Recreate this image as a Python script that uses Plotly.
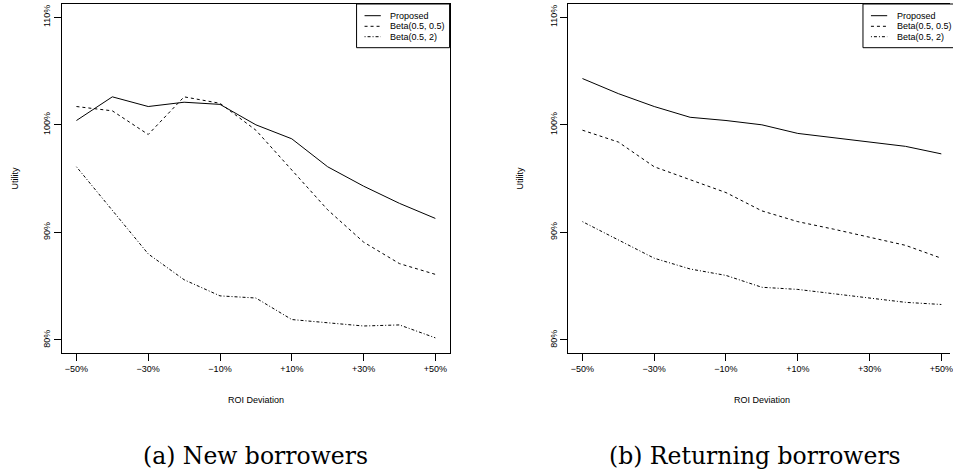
import plotly.graph_objects as go

# ---------------- data ----------------
roi_dev = [-50, -40, -30, -20, -10, 0, 10, 20, 30, 40, 50]
x_tick_vals = [-50, -30, -10, 10, 30, 50]
x_tick_text = ["\u221250%", "\u221230%", "\u221210%", "+10%", "+30%", "+50%"]
y_tick_vals = [80, 90, 100, 110]
y_tick_text = ["80%", "90%", "100%", "110%"]

series_names = ["Proposed", "Beta(0.5, 0.5)", "Beta(0.5, 2)"]

new_proposed = [100.4, 102.6, 101.7, 102.1, 101.9, 100.0, 98.7, 96.1, 94.3, 92.7, 91.3]
new_beta_05_05 = [101.7, 101.3, 99.1, 102.6, 102.0, 99.5, 95.8, 92.1, 89.1, 87.1, 86.1]
new_beta_05_2 = [96.1, 92.1, 88.0, 85.6, 84.1, 83.9, 81.9, 81.6, 81.3, 81.4, 80.2]

ret_proposed = [104.3, 102.9, 101.7, 100.7, 100.4, 100.0, 99.2, 98.8, 98.4, 98.0, 97.3]
ret_beta_05_05 = [99.5, 98.4, 96.1, 94.9, 93.7, 92.0, 91.0, 90.3, 89.55, 88.8, 87.6]
ret_beta_05_2 = [91.0, 89.3, 87.6, 86.6, 86.0, 84.9, 84.7, 84.3, 83.9, 83.5, 83.3]

captions = ["(a) New borrowers", "(b) Returning borrowers"]
x_title = "ROI Deviation"
y_title = "Utility"

# ---------------- styling ----------------
W, H = 953, 472
dashes = ["solid", "3px,3px", "1px,2px,3px,2px"]
sans = "Liberation Sans, Arial, sans-serif"
serif = "DejaVu Serif, serif"

def px(xp):
    return xp / W

def py(yp):
    return 1 - yp / H

fig = go.Figure()

panels = [
    ("x", "y", [new_proposed, new_beta_05_05, new_beta_05_2]),
    ("x2", "y2", [ret_proposed, ret_beta_05_05, ret_beta_05_2]),
]
for xa, ya, ys in panels:
    for name, vals, dash in zip(series_names, ys, dashes):
        fig.add_trace(go.Scatter(
            x=roi_dev, y=vals, name=name, mode="lines",
            line=dict(color="black", width=1, dash=dash),
            xaxis=xa, yaxis=ya, showlegend=False, hoverinfo="skip"))

tickfont = dict(family=sans, size=9, color="black")
common_x = dict(tickvals=x_tick_vals, ticktext=x_tick_text, ticks="outside",
                ticklen=7, tickwidth=1, tickcolor="black", showline=True,
                linecolor="black", linewidth=1, showgrid=False, zeroline=False,
                tickfont=tickfont, fixedrange=True, ticklabeloverflow="allow")
common_y = dict(tickvals=y_tick_vals, ticktext=y_tick_text, ticks="outside",
                ticklen=7, tickwidth=1, tickcolor="black", showline=True,
                linecolor="black", linewidth=1, showgrid=False, zeroline=False,
                tickfont=tickfont, tickangle=-90, fixedrange=True)

y_dom = [py(353), py(4)]
y_rng = [78.79, 111.23]

fig.update_layout(
    width=W, height=H,
    margin=dict(l=0, r=0, t=0, b=0),
    paper_bgcolor="white", plot_bgcolor="white",
    xaxis=dict(domain=[px(62), px(451)], range=[-54.08, 53.97], anchor="y",
               mirror=True, **common_x),
    yaxis=dict(domain=y_dom, range=y_rng, anchor="x", mirror=True, **common_y),
    xaxis2=dict(domain=[px(570), 1.0], range=[-53.97, 52.42], anchor="y2",
                mirror=True, **common_x),
    yaxis2=dict(domain=y_dom, range=y_rng, anchor="x2", mirror=False, **common_y),
)

annotations = []
shapes = []
panel_offsets = [0, 508]
x_centers = [256.5, 764]
util_x = [16, 521.7]
cap_x = [256.5, 757]
for i, off in enumerate(panel_offsets):
    annotations.append(dict(text=x_title, x=px(x_centers[i]), y=py(400),
                            xref="paper", yref="paper", showarrow=False,
                            xanchor="center", yanchor="middle",
                            font=dict(family=sans, size=9, color="black")))
    annotations.append(dict(text=y_title, x=px(util_x[i]), y=py(178.5),
                            xref="paper", yref="paper", showarrow=False,
                            textangle=-90, xanchor="center", yanchor="middle",
                            font=dict(family=sans, size=9, color="black")))
    annotations.append(dict(text=captions[i], x=px(cap_x[i]), y=py(456),
                            xref="paper", yref="paper", showarrow=False,
                            xanchor="center", yanchor="middle",
                            font=dict(family=serif, size=23.5, color="black")))
    # legend box
    shapes.append(dict(type="rect", xref="paper", yref="paper",
                       x0=px(357.7 + off), x1=px(451 + off) if off == 0 else 1.02,
                       y0=py(47.7), y1=py(4),
                       line=dict(color="black", width=1), fillcolor="white"))
    for j, (name, dash) in enumerate(zip(series_names, dashes)):
        yy = [15.7, 26.3, 36.7][j]
        shapes.append(dict(type="line", xref="paper", yref="paper",
                           x0=px(365.7 + off), x1=px(382 + off),
                           y0=py(yy), y1=py(yy),
                           line=dict(color="black", width=1, dash=dash)))
        annotations.append(dict(text=name, x=px(389.5 + off), y=py(yy),
                                xref="paper", yref="paper", showarrow=False,
                                xanchor="left", yanchor="middle",
                                font=dict(family=sans, size=9, color="black")))

fig.update_layout(annotations=annotations, shapes=shapes)

fig.write_html("out.html",
               config={"displayModeBar": False, "staticPlot": True},
               post_script="document.body.style.margin='0px';"
                           "document.body.style.overflow='hidden';")
